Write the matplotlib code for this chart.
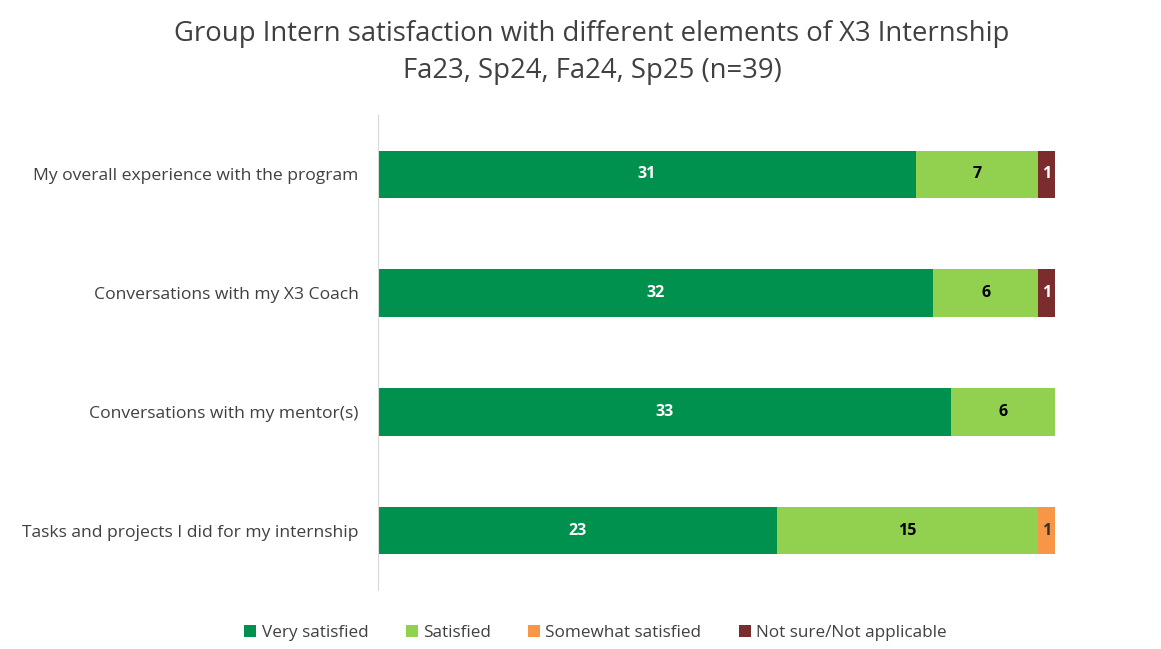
import matplotlib
matplotlib.use("Agg")
import matplotlib.pyplot as plt
import numpy as np

plt.rcParams['font.family'] = ['Open Sans', 'DejaVu Sans']

# 数据
categories = ["My overall experience with the program",
              "Conversations with my X3 Coach",
              "Conversations with my mentor(s)",
              "Tasks and projects I did for my internship"]
series_names = ["Very satisfied", "Satisfied", "Somewhat satisfied", "Not sure/Not applicable"]
very_satisfied = [31, 32, 33, 23]
satisfied = [7, 6, 6, 15]
somewhat_satisfied = [0, 0, 0, 1]
not_sure = [1, 1, 0, 0]

colors = ["#00914F", "#92D050", "#F79646", "#7B2C2C"]
label_colors = ["white", "black", "#333333", "white"]

fig = plt.figure(figsize=(11.61, 6.49), dpi=100)
ax = fig.add_axes([0.3256, 0.0909, 0.5831, 0.7319])

y = np.arange(len(categories))
left = np.zeros(len(categories))
all_series = [very_satisfied, satisfied, somewhat_satisfied, not_sure]
for vals, name, c, lc in zip(all_series, series_names, colors, label_colors):
    vals = np.array(vals)
    ax.barh(y, vals, left=left, height=0.40, color=c, label=name, edgecolor="none")
    for yi, (l, v) in enumerate(zip(left, vals)):
        if v > 0:
            ax.text(l + v / 2, yi, str(v), ha="center", va="center",
                    color=lc, fontsize=11.5, fontweight="bold")
    left += vals

ax.set_xlim(0, 39)
ax.set_ylim(3.5, -0.5)
ax.set_yticks(y)
ax.set_yticklabels(categories, fontsize=12.6, color="#404040")
ax.tick_params(axis="y", length=0, pad=14)
ax.set_xticks([])
for s in ["top", "right", "bottom"]:
    ax.spines[s].set_visible(False)
ax.spines["left"].set_color("#D9D9D9")

fig.text(0.51, 0.948, "Group Intern satisfaction with different elements of X3 Internship",
         ha="center", va="center", fontsize=19.8, color="#404040")
fig.text(0.51, 0.891, "Fa23, Sp24, Fa24, Sp25 (n=39)",
         ha="center", va="center", fontsize=19.8, color="#404040")

leg = fig.legend(loc="center", bbox_to_anchor=(0.513, 0.025), ncol=4, frameon=False,
                 fontsize=12.3, handlelength=0.7, handleheight=0.7, handletextpad=0.3,
                 columnspacing=2.2)
for t in leg.get_texts():
    t.set_color("#404040")

fig.savefig("out.png", dpi=100)
